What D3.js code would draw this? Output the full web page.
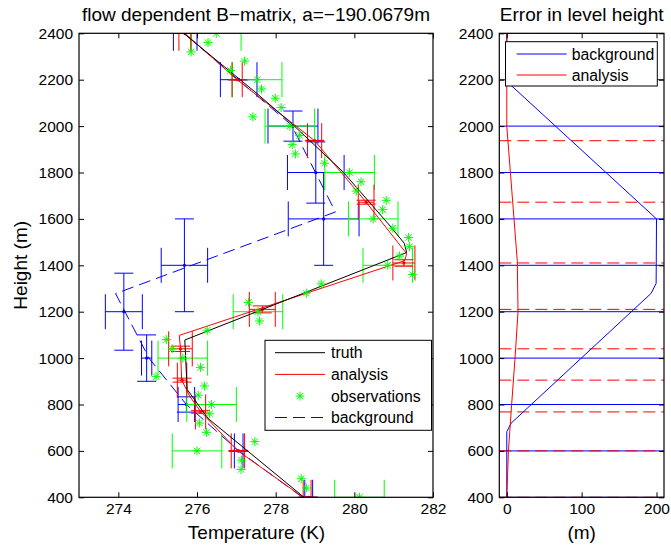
<!DOCTYPE html>
<html>
<head>
<meta charset="utf-8">
<script src="https://cdn.jsdelivr.net/npm/d3@7"></script>
<style>
  body { margin: 0; background: #fff; }
  svg text { font-family: "Liberation Sans", Arial, Helvetica, sans-serif; fill: #000; }
</style>
</head>
<body>
<svg id="chart" width="671" height="548"></svg>
<script>
// ---- axis ticks ----
const tempTicks = [274, 276, 278, 280, 282];
const heightTicks = [400, 600, 800, 1000, 1200, 1400, 1600, 1800, 2000, 2200, 2400];
const errTicks = [0, 100, 200];

// ---- truth profile ----
const truthHeight = [400, 740, 865, 1078, 1455, 1495, 1581, 1803, 2012, 2148, 2400];
const truthTemp   = [278.72, 276.28, 275.75, 275.69, 281.33, 281.27, 280.85, 279.71, 278.40, 277.47, 275.66];

// ---- analysis profile ----
const analysisHeight = [400, 600, 768, 834, 906, 1040, 1098, 1420, 1450, 1672, 1937, 2200, 2400];
const analysisTemp   = [278.70, 277.04, 276.10, 275.82, 275.61, 275.58, 275.55, 281.28, 281.33, 280.30, 278.99, 277.02, 275.69];

// ---- background profile (displaced levels) ----
const backgroundHeight = [400, 600, 800, 997, 1278, 1630, 2005, 2195, 2400];
const backgroundTemp   = [278.68, 277.06, 275.73, 274.79, 273.93, 279.52, 278.40, 277.08, 275.67];

// ---- observations, every 40 m ----
const obsHeight = [400, 440, 480, 520, 560, 600, 640, 680, 720, 760, 800, 840, 880, 920, 960, 1000,
  1040, 1080, 1120, 1160, 1200, 1240, 1280, 1320, 1360, 1400, 1440, 1480, 1520, 1560, 1600, 1640,
  1680, 1720, 1760, 1800, 1840, 1880, 1920, 1960, 2000, 2040, 2080, 2120, 2160, 2200, 2240, 2280,
  2320, 2360, 2400];
const obsTemp = [280.13, 278.78, 278.65, 277.12, 277.13, 276.00, 277.47, 276.24, 276.06, 276.32, 276.37,
  276.03, 276.19, 274.96, 276.09, 275.64, 275.37, 275.22, 276.26, 277.59, 277.55, 277.31, 278.78,
  279.16, 281.48, 280.85, 281.15, 281.40, 281.38, 280.98, 280.48, 280.72, 280.81, 280.05, 280.17,
  279.88, 279.24, 278.50, 278.42, 278.61, 278.36, 277.42, 278.14, 277.99, 277.64, 277.53, 276.85,
  277.21, 275.85, 276.28, 276.49];
// observation error (K) at the model levels
const obsBarHeight = [400, 600, 800, 1000, 1200, 1400, 1600, 1800, 2000, 2200, 2400];
const obsBarErr    = [0.63, 0.63, 0.63, 0.63, 0.63, 0.63, 0.63, 0.63, 0.63, 0.63, 0.63];

// ---- background values and errors at model levels ----
const bgLevels     = [400, 600, 800, 1000, 1200, 1400, 1600, 1800, 2000, 2200, 2400];
const bgBarTemp    = [278.84, 277.06, 275.73, 274.72, 274.14, 275.68, 279.22, 279.02, 278.44, 277.06, 275.70];
const bgBarTempErr = [0.10, 0.11, 0.21, 0.13, 0.47, 0.59, 0.90, 0.72, 0.635, 0.465, 0.30];
const bgBarHgtErr  = [0, 0, 33, 100, 166, 200, 200, 132, 65, 0, 0];

// ---- analysis values and errors at analysis levels ----
const anLevels     = [400, 600, 768, 905, 1040, 1210, 1410, 1672, 1937, 2200, 2400];
const anBarTemp    = [278.80, 277.04, 276.09, 275.62, 275.58, 277.66, 281.26, 280.30, 278.99, 277.02, 275.69];
const anBarTempErr = [0.10, 0.17, 0.13, 0.12, 0.30, 0.33, 0.28, 0.20, 0.18, 0.13, 0.15];
const anBarHgtErr  = [0, 2, 5.5, 8.5, 11.5, 15, 14, 8.5, 1.5, 0, 0];

// ---- error in level height (m) ----
const bgErrHeight = [400, 683, 719, 1279, 1322, 1600, 2173, 2192, 2400];
const bgErrValue  = [0, 0, 5.7, 192.8, 199.5, 200, 6.6, 0, 0];
const anErrHeight = [400, 600, 800, 1000, 1200, 1420, 2000, 2400];
const anErrValue  = [0, 2.2, 6.5, 11, 15, 14, 0, 0];

// ---- drawing ----
const BLUE = "#0000ff", RED = "#ff0000", GREEN = "#00ff00";
const svg = d3.select("#chart");

const x = d3.scaleLinear().domain([273, 282]).range([79, 433]);
const y = d3.scaleLinear().domain([400, 2400]).range([497.3, 33.3]);
const xe = d3.scaleLinear().domain([-10, 210]).range([499.3, 664]);

const defs = svg.append("defs");
defs.append("clipPath").attr("id", "clipL").append("rect")
  .attr("x", x.range()[0]).attr("y", y.range()[1])
  .attr("width", x.range()[1] - x.range()[0]).attr("height", y.range()[0] - y.range()[1]);
defs.append("clipPath").attr("id", "clipR").append("rect")
  .attr("x", xe.range()[0]).attr("y", y.range()[1])
  .attr("width", xe.range()[1] - xe.range()[0]).attr("height", y.range()[0] - y.range()[1]);

function zip(a, b) { return a.map((v, i) => [v, b[i]]); }

// segments for error bars: horizontal bar with end caps, vertical bar with end caps
function barSegments(temps, hgts, dT, dH) {
  const segs = [];
  temps.forEach((t, i) => {
    const h = hgts[i];
    const cx = x(t), cy = y(h);
    const xa = x(t - dT[i]), xb = x(t + dT[i]);
    segs.push([xa, cy, xb, cy], [xa, cy - 17.5, xa, cy + 17.5], [xb, cy - 17.5, xb, cy + 17.5]);
    if (dH) {
      const ya = y(h - dH[i]), yb = y(h + dH[i]);
      segs.push([cx, ya, cx, yb], [cx - 9.5, ya, cx + 9.5, ya], [cx - 9.5, yb, cx + 9.5, yb]);
    }
  });
  return segs;
}
function drawSegs(g, segs, color) {
  g.selectAll(null).data(segs).join("line")
    .attr("x1", d => d[0]).attr("y1", d => d[1]).attr("x2", d => d[2]).attr("y2", d => d[3])
    .attr("stroke", color).attr("stroke-width", 1);
}
const starPath = "M-4.5,0H4.5M0,-4.5V4.5M-3.2,-3.2L3.2,3.2M-3.2,3.2L3.2,-3.2";

// ===== left panel =====
const L = svg.append("g").attr("clip-path", "url(#clipL)");

// background error bars
drawSegs(L.append("g"), barSegments(bgBarTemp, bgLevels, bgBarTempErr, bgBarHgtErr), BLUE);
L.append("g").selectAll("circle").data(zip(bgBarTemp, bgLevels)).join("circle")
  .attr("cx", d => x(d[0])).attr("cy", d => y(d[1])).attr("r", 1.6).attr("fill", BLUE);

// background profile
const line = d3.line().x(d => x(d[0])).y(d => y(d[1]));
L.append("path").attr("d", line(zip(backgroundTemp, backgroundHeight)))
  .attr("fill", "none").attr("stroke", BLUE).attr("stroke-width", 1).attr("stroke-dasharray", "12,6");

// observation error bars
const obsBarTemp = obsBarHeight.map(h => obsTemp[obsHeight.indexOf(h)]);
drawSegs(L.append("g"), barSegments(obsBarTemp, obsBarHeight, obsBarErr, null), GREEN);

// analysis error bars
drawSegs(L.append("g"), barSegments(anBarTemp, anLevels, anBarTempErr, anBarHgtErr), RED);
L.append("g").selectAll("circle").data(zip(anBarTemp, anLevels)).join("circle")
  .attr("cx", d => x(d[0])).attr("cy", d => y(d[1])).attr("r", 1.6).attr("fill", RED);

// analysis and truth
L.append("path").attr("d", line(zip(analysisTemp, analysisHeight)))
  .attr("fill", "none").attr("stroke", RED).attr("stroke-width", 1);
L.append("path").attr("d", line(zip(truthTemp, truthHeight)))
  .attr("fill", "none").attr("stroke", "#000").attr("stroke-width", 1);

// observations
L.append("g").selectAll("path").data(zip(obsTemp, obsHeight)).join("path")
  .attr("transform", d => `translate(${x(d[0])},${y(d[1])})`)
  .attr("d", starPath).attr("stroke", GREEN).attr("stroke-width", 1).attr("fill", "none");

// ===== right panel =====
const R = svg.append("g").attr("clip-path", "url(#clipR)");
R.append("g").selectAll("line").data(bgLevels).join("line")
  .attr("x1", xe.range()[0]).attr("x2", xe.range()[1])
  .attr("y1", d => y(d)).attr("y2", d => y(d))
  .attr("stroke", BLUE).attr("stroke-width", 1);
R.append("g").selectAll("line").data(anLevels).join("line")
  .attr("x1", xe.range()[0]).attr("x2", xe.range()[1])
  .attr("y1", d => y(d)).attr("y2", d => y(d))
  .attr("stroke", RED).attr("stroke-width", 1).attr("stroke-dasharray", "12,6");
const eline = d3.line().x(d => xe(d[0])).y(d => y(d[1]));
R.append("path").attr("d", eline(zip(bgErrValue, bgErrHeight)))
  .attr("fill", "none").attr("stroke", BLUE).attr("stroke-width", 1);
R.append("path").attr("d", eline(zip(anErrValue, anErrHeight)))
  .attr("fill", "none").attr("stroke", RED).attr("stroke-width", 1);

// ===== axes (boxed, ticks inside) =====
function boxAxes(xs, ys, xticks, yticks) {
  const g = svg.append("g");
  const [x0, x1] = xs.range(), [y1, y0] = ys.range();
  g.append("g").attr("transform", `translate(0,${y1})`)
    .call(d3.axisBottom(xs).tickValues(xticks).tickSize(-5).tickPadding(6).tickFormat(d3.format("d")));
  g.append("g").attr("transform", `translate(0,${y0})`)
    .call(d3.axisTop(xs).tickValues(xticks).tickSize(-5).tickFormat(""));
  g.append("g").attr("transform", `translate(${x0},0)`)
    .call(d3.axisLeft(ys).tickValues(yticks).tickSize(-5).tickPadding(6).tickFormat(d3.format("d")));
  g.append("g").attr("transform", `translate(${x1},0)`)
    .call(d3.axisRight(ys).tickValues(yticks).tickSize(-5).tickFormat(""));
  g.selectAll(".domain").remove();
  g.selectAll(".tick line").attr("stroke", "#000");
  g.selectAll(".tick text").attr("font-size", 15.5).attr("font-family", null);
  g.append("rect").attr("x", x0).attr("y", y0).attr("width", x1 - x0).attr("height", y1 - y0)
    .attr("fill", "none").attr("stroke", "#000").attr("stroke-width", 1.2);
}
boxAxes(x, y, tempTicks, heightTicks);
boxAxes(xe, y, errTicks, heightTicks);

// ===== legends =====
function legend(bx, by, bw, bh, items) {
  const g = svg.append("g");
  g.append("rect").attr("x", bx).attr("y", by).attr("width", bw).attr("height", bh)
    .attr("fill", "#fff").attr("stroke", "#000").attr("stroke-width", 1);
  items.forEach(it => {
    if (it.star) {
      g.append("path").attr("transform", `translate(${(it.x0 + it.x1) / 2},${it.y})`)
        .attr("d", starPath).attr("stroke", it.color).attr("fill", "none");
    } else {
      g.append("line").attr("x1", it.x0).attr("x2", it.x1).attr("y1", it.y).attr("y2", it.y)
        .attr("stroke", it.color).attr("stroke-width", 1)
        .attr("stroke-dasharray", it.dash || null);
    }
    g.append("text").attr("x", it.tx).attr("y", it.y + 5.6).attr("font-size", 15.8).text(it.label);
  });
}
legend(265, 340.3, 166.5, 90, [
  { label: "truth", color: "#000", x0: 275, x1: 325, tx: 331, y: 352.7 },
  { label: "analysis", color: RED, x0: 275, x1: 325, tx: 331, y: 374.4 },
  { label: "observations", color: GREEN, x0: 275, x1: 325, tx: 331, y: 396.1, star: true },
  { label: "background", color: BLUE, x0: 275, x1: 325, tx: 331, y: 417.5, dash: "12,6" }
]);
legend(505.5, 41.7, 151.8, 44.3, [
  { label: "background", color: BLUE, x0: 516.7, x1: 566.7, tx: 571.7, y: 54 },
  { label: "analysis", color: RED, x0: 516.7, x1: 566.7, tx: 571.7, y: 75 }
]);

// ===== titles and labels =====
svg.append("text").attr("x", 256).attr("y", 21).attr("text-anchor", "middle").attr("font-size", 19)
  .text("flow dependent B\u2212matrix, a=\u2212190.0679m");
svg.append("text").attr("x", 581.7).attr("y", 21).attr("text-anchor", "middle").attr("font-size", 19)
  .text("Error in level height");
svg.append("text").attr("x", 256.5).attr("y", 538.5).attr("text-anchor", "middle").attr("font-size", 19)
  .text("Temperature (K)");
svg.append("text").attr("x", 581.7).attr("y", 538.5).attr("text-anchor", "middle").attr("font-size", 19)
  .text("(m)");
svg.append("text").attr("transform", "translate(27,265.3) rotate(-90)").attr("text-anchor", "middle")
  .attr("font-size", 19).text("Height (m)");
</script>
</body>
</html>
